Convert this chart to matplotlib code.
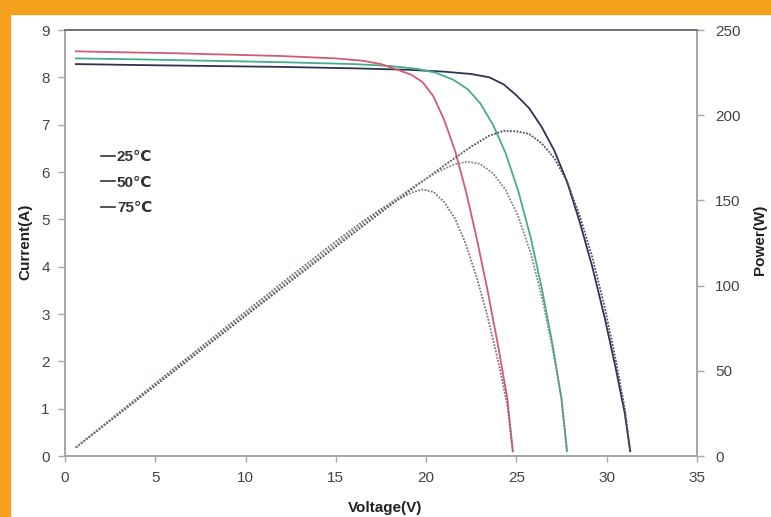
import matplotlib
matplotlib.use("Agg")
import matplotlib.pyplot as plt
from matplotlib.lines import Line2D
from matplotlib.patches import Rectangle

plt.rcParams["font.family"] = ["Liberation Sans", "DejaVu Sans"]

# I-V data (voltage in V, current in A)
v_25 = [0.6, 4, 8, 12, 16, 19, 21, 22.5, 23.5, 24.3, 25.0, 25.7, 26.4, 27.1,
        27.8, 28.5, 29.2, 29.9, 30.5, 31.0, 31.3]
i_25 = [8.28, 8.26, 8.24, 8.22, 8.19, 8.16, 8.12, 8.07, 8.0, 7.85, 7.62, 7.35,
        6.95, 6.45, 5.8, 4.95, 4.0, 2.9, 1.85, 0.9, 0.1]
p_25 = [5.0, 33.0, 65.9, 98.6, 131.0, 155.0, 170.5, 181.6, 188.0, 190.8, 190.5,
        189.0, 183.5, 174.8, 161.2, 141.1, 116.8, 86.7, 56.4, 27.9, 3.1]

v_50 = [0.6, 4, 8, 12, 16, 18, 19.5, 20.5, 21.5, 22.3, 23.0, 23.7, 24.4, 25.1,
        25.8, 26.4, 27.0, 27.5, 27.8]
i_50 = [8.40, 8.38, 8.35, 8.32, 8.28, 8.24, 8.18, 8.10, 7.95, 7.75, 7.45, 7.0,
        6.4, 5.6, 4.6, 3.55, 2.35, 1.2, 0.1]
p_50 = [5.0, 33.5, 66.8, 99.8, 132.5, 148.3, 159.5, 166.0, 171.0, 172.8, 171.4,
        165.9, 156.2, 140.6, 118.7, 93.7, 63.5, 33.0, 2.8]

v_75 = [0.6, 3, 6, 9, 12, 15, 16.5, 17.5, 18.5, 19.2, 19.8, 20.4, 21.0, 21.6,
        22.2, 22.8, 23.4, 24.0, 24.5, 24.8]
i_75 = [8.55, 8.53, 8.51, 8.48, 8.45, 8.40, 8.35, 8.28, 8.15, 8.05, 7.9, 7.6,
        7.1, 6.45, 5.6, 4.6, 3.5, 2.3, 1.2, 0.1]
p_75 = [5.0, 25.6, 51.1, 76.3, 101.4, 126.0, 137.8, 144.9, 150.8, 154.6, 156.4,
        155.0, 149.0, 139.3, 124.3, 104.9, 81.9, 55.2, 29.4, 2.5]

labels = ["25\u2103", "50\u2103", "75\u2103"]
x_ticks = [0, 5, 10, 15, 20, 25, 30, 35]
i_ticks = list(range(0, 10))
p_ticks = [0, 50, 100, 150, 200, 250]

W, H = 771, 517
fig = plt.figure(figsize=(W / 100, H / 100), dpi=100)
fig.patch.set_facecolor("white")
orange = "#f3a11d"
fig.add_artist(Rectangle((0, 1 - 14 / H), 1, 14 / H, transform=fig.transFigure,
                         color=orange, zorder=0))
fig.add_artist(Rectangle((0, 0), 10 / W, 1, transform=fig.transFigure,
                         color=orange, zorder=0))

ax = fig.add_axes([65 / W, 61 / H, 632 / W, 426 / H])
ax2 = ax.twinx()

cols = {"25": "#2e3550", "50": "#45ad8e", "75": "#d45a72"}
ax.plot(v_25, i_25, color=cols["25"], lw=1.3)
ax.plot(v_50, i_50, color=cols["50"], lw=1.3)
ax.plot(v_75, i_75, color=cols["75"], lw=1.3)

pstyle = dict(ls=(0, (1, 0.8)), lw=1.3)
ax2.plot(v_25, p_25, color="#4a4f66", **pstyle)
ax2.plot(v_50, p_50, color="#7c8a86", **pstyle)
ax2.plot(v_75, p_75, color="#8a7078", **pstyle)

ax.set_xlim(0, 35)
ax.set_ylim(0, 9)
ax2.set_ylim(0, 250)
ax.set_xticks(x_ticks)
ax.set_yticks(i_ticks)
ax2.set_yticks(p_ticks)

for a in (ax, ax2):
    for s in a.spines.values():
        s.set_color("#a8a8a8")
        s.set_linewidth(1.4)
    a.spines["top"].set_color("#6f7580")
    a.tick_params(colors="#a8a8a8", labelcolor="#444444", labelsize=11,
                  length=5, width=1, direction="out")
ax.tick_params(axis="y", pad=6)
ax.tick_params(axis="x", pad=7, length=4)
ax2.tick_params(axis="y", pad=8)

handles = [Line2D([], [], color="#333333", lw=1.2) for _ in labels]
leg = ax.legend(handles, labels, loc="upper left", bbox_to_anchor=(0.035, 0.75),
                frameon=False, handlelength=0.9, handletextpad=0.15,
                labelspacing=0.75, fontsize=11)
for t in leg.get_texts():
    t.set_color("#333333")
    t.set_fontweight("bold")

fig.text(25 / W, 1 - 242 / H, "Current(A)", rotation=90, ha="center",
         va="center", fontsize=11, fontweight="bold", color="#222222")
fig.text(760 / W, 1 - 240 / H, "Power(W)", rotation=90, ha="center",
         va="center", fontsize=11, fontweight="bold", color="#222222")
fig.text(385 / W, 1 - 508 / H, "Voltage(V)", ha="center", va="center",
         fontsize=11, fontweight="bold", color="#222222")

fig.savefig("out.png", dpi=100)
